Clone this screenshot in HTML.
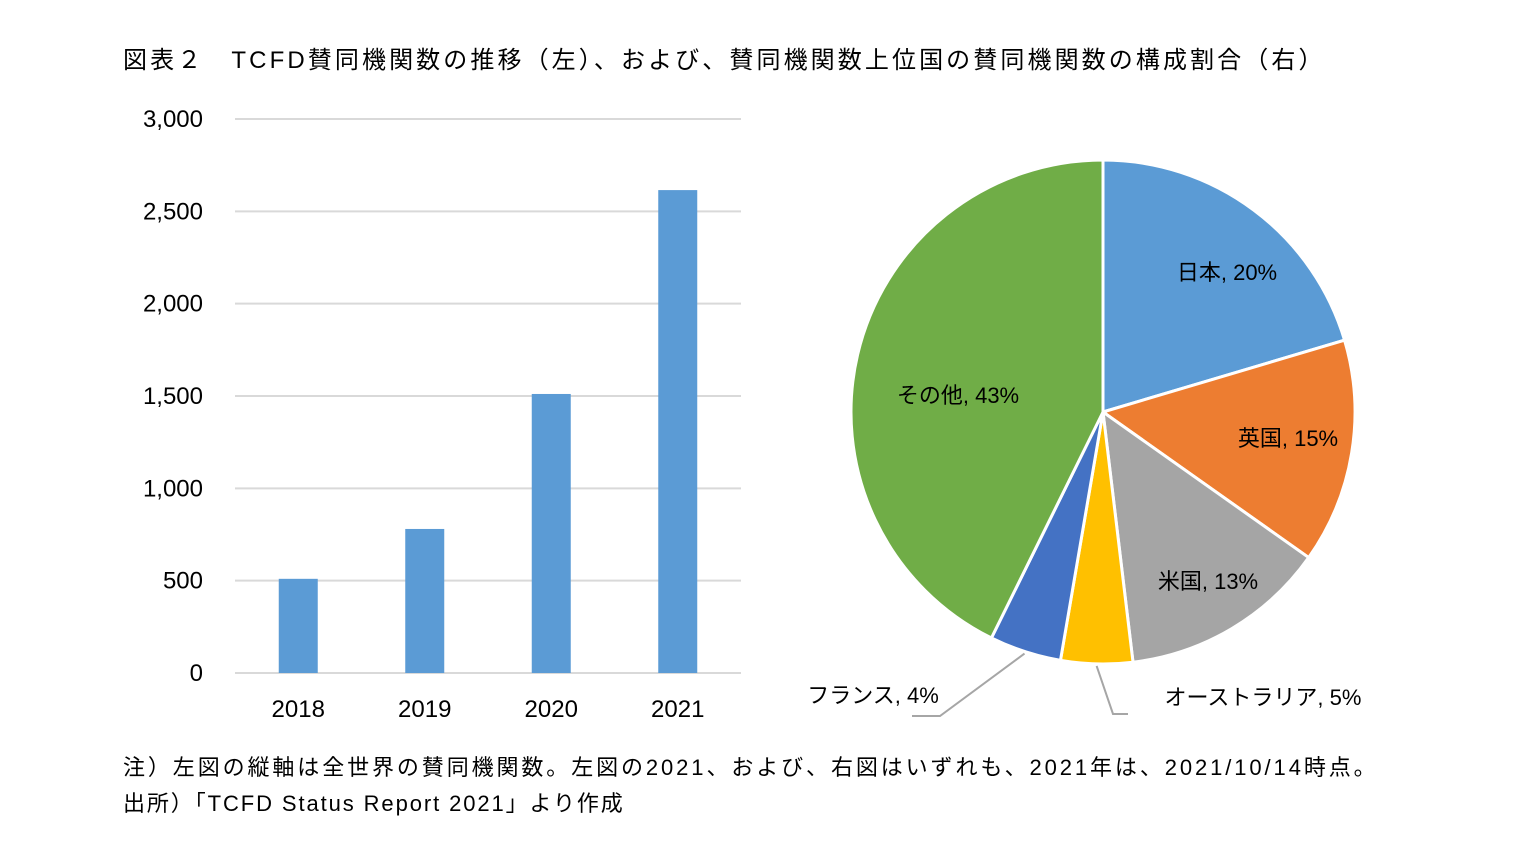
<!DOCTYPE html>
<html><head><meta charset="utf-8">
<style>
html,body{margin:0;padding:0;background:#fff;}
body{width:1513px;height:853px;overflow:hidden;position:relative;font-family:"Liberation Sans","Noto Sans CJK JP",sans-serif;color:#000;}
.t{position:absolute;white-space:nowrap;}
</style></head>
<body>
<div class="t" style="left:123px;top:40px;font-size:24px;letter-spacing:3.1px;">図表２　TCFD賛同機関数の推移（左）、および、賛同機関数上位国の賛同機関数の構成割合（右）</div>
<svg id="c" width="1513" height="853" style="position:absolute;left:0;top:0"></svg>
<div class="t" style="left:123px;top:750px;font-size:22px;letter-spacing:2.9px;">注）左図の縦軸は全世界の賛同機関数。左図の2021、および、右図はいずれも、2021年は、2021/10/14時点。</div>
<div class="t" style="left:123px;top:786px;font-size:22px;letter-spacing:1.9px;">出所）「TCFD Status Report 2021」より作成</div>
<script>
const years = ['2018','2019','2020','2021'];
const counts = [510, 780, 1511, 2615];
const yTicks = [0,500,1000,1500,2000,2500,3000];
const yTickLabels = ['0','500','1,000','1,500','2,000','2,500','3,000'];
const pieNames = ['日本','英国','米国','オーストラリア','フランス','その他'];
const pieShares = [20.4, 14.4, 13.3, 4.6, 4.6, 42.7];
const pieLabels = ['20%','15%','13%','5%','4%','43%'];
const pieColors = ['#5B9BD5','#ED7D31','#A5A5A5','#FFC000','#4472C4','#70AD47'];

const NS='http://www.w3.org/2000/svg';
const svg=document.getElementById('c');
function mk(tag,attrs,parent){const e=document.createElementNS(NS,tag);for(const k in attrs)e.setAttribute(k,attrs[k]);(parent||svg).appendChild(e);return e;}
const x0=235,x1=741,yBase=673,yTop=119,yMax=3000;
const yS=v=>yBase-(yBase-yTop)*v/yMax;
const band=(x1-x0)/years.length;
const xS=i=>x0+band*(i+0.5);
yTicks.forEach((v,i)=>{
  const g=mk('line',{x1:x0,x2:x1,y1:yS(v),y2:yS(v),stroke:'#d9d9d9','stroke-width':2});
  
  
  const t=mk('text',{x:203,y:yS(v)+8,'text-anchor':'end','font-size':24,'font-family':'Liberation Sans, sans-serif'});
  t.textContent=yTickLabels[i];
  
  
});
years.forEach((y,i)=>{
  const b=mk('rect',{x:xS(i)-19.5,y:yS(counts[i]),width:39,height:yBase-yS(counts[i]),fill:'#5B9BD5'});
  
  
  const t=mk('text',{x:xS(i),y:717,'text-anchor':'middle','font-size':24,'font-family':'Liberation Sans, sans-serif'});
  t.textContent=y;
  
  
});
const cx=1103,cy=412,r=252;
const total=pieShares.reduce((a,b)=>a+b,0);
const pt=(a,rr)=>[cx+rr*Math.sin(a),cy-rr*Math.cos(a)];
let acc=0;
const labelPos=[[1227,272],[1288,438],[1208,581],[1263,697],[873,695],[958,395]];
pieShares.forEach((s,i)=>{
  const a0=acc/total*2*Math.PI;acc+=s;const a1=acc/total*2*Math.PI;
  const p0=pt(a0,r),p1=pt(a1,r);
  const large=(a1-a0)>Math.PI?1:0;
  const p=mk('path',{d:`M${cx},${cy}L${p0[0]},${p0[1]}A${r},${r} 0 ${large} 1 ${p1[0]},${p1[1]}Z`,fill:pieColors[i],stroke:'#fff','stroke-width':3});
  
  
  const lp=labelPos[i];
  const t=mk('text',{x:lp[0],y:lp[1]+8,'text-anchor':'middle','font-size':22,'font-family':'Liberation Sans, Noto Sans CJK JP, sans-serif'});
  t.textContent=pieNames[i]+', '+pieLabels[i];
  
  
  if(i===3||i===4){
    const mid=(a0+a1)/2;const e=pt(mid,r+2);
    const pts=i===3?`${e[0]},${e[1]} ${1113},714 ${1128},714`:`${e[0]},${e[1]} ${940},716 ${912},716`;
    const l=mk('polyline',{points:pts,fill:'none',stroke:'#a6a6a6','stroke-width':2});
    
    
  }
});
</script>
</body></html>
